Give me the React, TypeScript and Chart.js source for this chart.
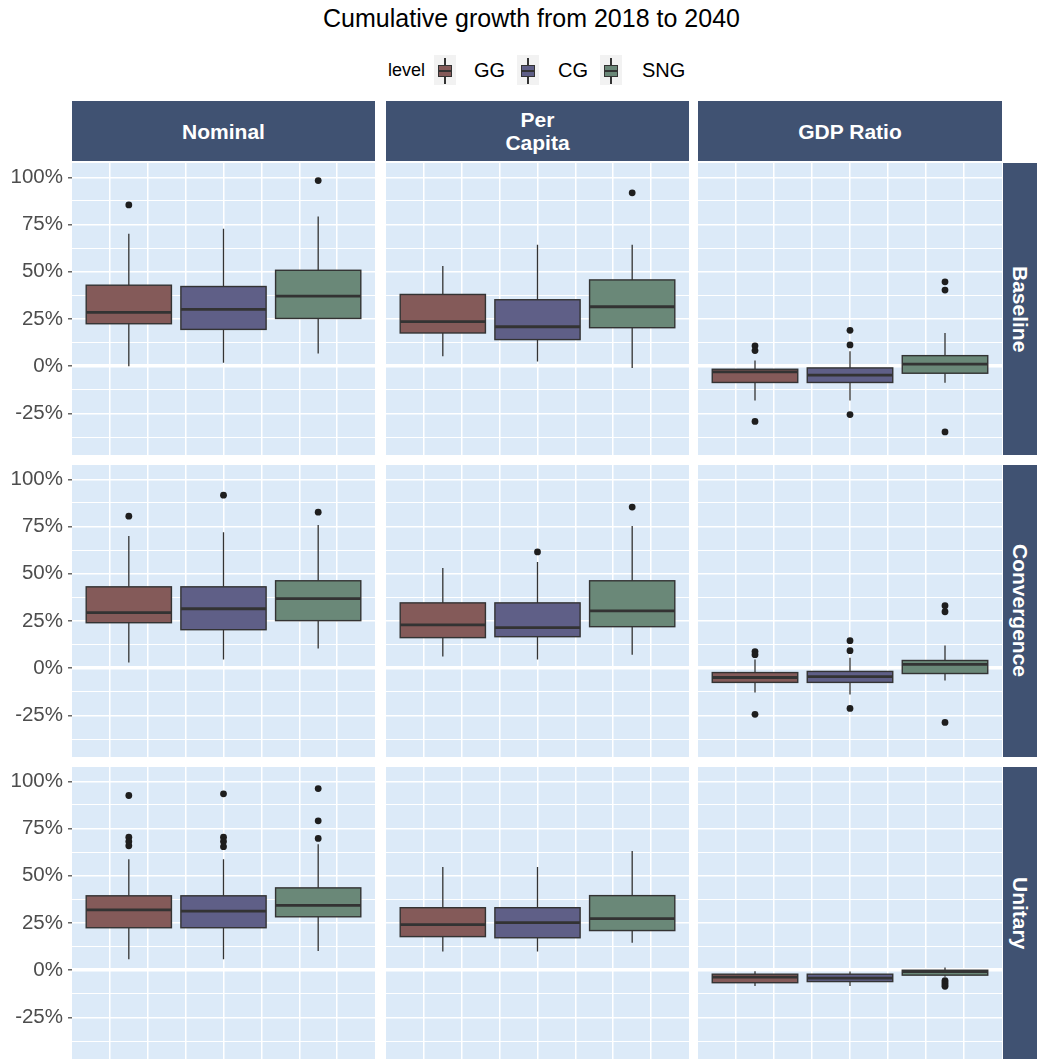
import React, { useEffect, useRef } from "react";
import { Chart, registerables } from "chart.js";

Chart.register(...registerables);

// ---------- data ----------
const title = "Cumulative growth from 2018 to 2040";
const legendTitle = "level";
const levels = ["GG", "CG", "SNG"];
const measures = ["Nominal", "Per\nCapita", "GDP Ratio"];
const scenarios = ["Baseline", "Convergence", "Unitary"];
const levelColors = ["#845A59", "#5F5F87", "#6A8878"];

// values indexed [scenario][measure][level], in percent
const whiskerLow = [
  [[0, 1.8, 6.7], [5.3, 2.5, -1.0], [-18.1, -18.1, -8.8]],
  [[3.0, 4.6, 10.4], [6.2, 4.6, 7.2], [-12.8, -13.9, -6.5]],
  [[5.8, 5.8, 10.2], [9.9, 9.9, 14.6], [-8.4, -8.4, -3.5]],
];
const q1 = [
  [[22.5, 19.5, 25.3], [17.6, 14.1, 20.4], [-8.6, -8.6, -3.7]],
  [[24.1, 20.4, 25.2], [16.2, 16.7, 22.0], [-7.5, -7.5, -2.8]],
  [[22.5, 22.5, 28.3], [17.8, 17.2, 21.0], [-6.6, -6.0, -2.6]],
];
const median = [
  [[28.5, 30.1, 37.1], [23.6, 20.9, 31.5], [-3.0, -4.7, 1.1]],
  [[29.4, 31.5, 36.8], [23.0, 21.5, 30.4], [-4.9, -4.4, 2.0]],
  [[32.0, 31.3, 34.3], [24.1, 25.2, 27.3], [-3.7, -4.2, -0.7]],
];
const q3 = [
  [[42.9, 42.2, 50.8], [38.0, 35.2, 45.7], [-1.6, -0.9, 5.6]],
  [[43.1, 43.1, 46.3], [34.6, 34.6, 46.3], [-2.3, -1.7, 4.1]],
  [[39.4, 39.4, 43.6], [33.1, 33.1, 39.5], [-2.1, -2.1, 0.0]],
];
const whiskerHigh = [
  [[70.1, 72.8, 79.3], [53.1, 64.3, 64.3], [3.0, 7.9, 17.6]],
  [[70.0, 72.0, 75.8], [53.1, 56.3, 75.3], [4.6, 5.6, 12.0]],
  [[58.8, 58.8, 66.7], [54.7, 54.7, 63.1], [-0.5, -0.7, 1.4]],
];
const outliers = [
  [[[85.4], [], [98.3]], [[], [], [91.8]], [[10.8, 8.3, -29.2], [19.0, 11.3, -25.6], [44.7, 40.3, -34.8]]],
  [[[80.5], [91.6], [82.6]], [[], [61.6], [85.3]], [[8.8, 7.2, -24.4], [14.6, 9.3, -21.3], [33.1, 29.9, -28.7]]],
  [[[92.5, 70.4, 68.2, 65.9], [93.4, 70.4, 68.2, 65.4], [96.2, 79.1, 69.8]], [[], [], []], [[], [], [-5.5, -6.5, -7.5, -8.5]]],
];
const yMin = -47.0;
const yMax = 107.6;
const yGridValues = [-37.5, -25, -12.5, 0, 12.5, 25, 37.5, 50, 62.5, 75, 87.5, 100];
const yLabelValues = [-25, 0, 25, 50, 75, 100];
const xMin = 0.4;
const xMax = 3.6;
const xGridValues = [0.8, 1.2, 1.6, 2.0, 2.4, 2.8, 3.2];

// ---------- layout ----------
const FONT = "'Liberation Sans', Arial, Helvetica, sans-serif";
const STRIP = "#405272";
const PANEL_BG = "#DCEAF8";
const cols = [
  { left: 72, width: 303 },
  { left: 386, width: 303 },
  { left: 698, width: 304 },
];
const rows = [{ top: 163 }, { top: 465 }, { top: 767 }];
const PANEL_H = 292;
const AXIS_W = 72;

function Panel({ r, c }: { r: number; c: number }) {
  const ref = useRef<HTMLCanvasElement>(null);
  const showY = c === 0;
  const axisW = showY ? AXIS_W : 0;
  const col = cols[c];
  const row = rows[r];
  const cw = col.width + axisW;

  useEffect(() => {
    const pts: { x: number; y: number }[] = [];
    levels.forEach((_, i) => {
      outliers[r][c][i].forEach((v) => pts.push({ x: i + 1, y: v }));
    });

    const bgPlugin = {
      id: "panelBg",
      beforeDraw(chart: any) {
        const { ctx, chartArea } = chart;
        ctx.save();
        ctx.fillStyle = PANEL_BG;
        ctx.fillRect(chartArea.left, chartArea.top, chartArea.right - chartArea.left, chartArea.bottom - chartArea.top);
        ctx.restore();
      },
    };

    const boxPlugin = {
      id: "boxplots",
      beforeDatasetsDraw(chart: any) {
        const { ctx } = chart;
        const xs = chart.scales.x;
        const ys = chart.scales.y;
        levels.forEach((_, i) => {
          const cx = xs.getPixelForValue(i + 1);
          const hw = xs.getPixelForValue(i + 1 + 0.45) - cx;
          const yLo = ys.getPixelForValue(whiskerLow[r][c][i]);
          const yQ1 = ys.getPixelForValue(q1[r][c][i]);
          const yMed = ys.getPixelForValue(median[r][c][i]);
          const yQ3 = ys.getPixelForValue(q3[r][c][i]);
          const yHi = ys.getPixelForValue(whiskerHigh[r][c][i]);
          ctx.save();
          ctx.strokeStyle = "#333333";
          ctx.lineWidth = 1.3;
          ctx.beginPath();
          ctx.moveTo(cx, yHi);
          ctx.lineTo(cx, yQ3);
          ctx.moveTo(cx, yQ1);
          ctx.lineTo(cx, yLo);
          ctx.stroke();
          ctx.fillStyle = levelColors[i];
          ctx.fillRect(cx - hw, yQ3, 2 * hw, yQ1 - yQ3);
          ctx.lineWidth = 1.4;
          ctx.strokeRect(cx - hw, yQ3, 2 * hw, yQ1 - yQ3);
          ctx.lineWidth = 2.8;
          ctx.beginPath();
          ctx.moveTo(cx - hw, yMed);
          ctx.lineTo(cx + hw, yMed);
          ctx.stroke();
          ctx.restore();
        });
      },
    };

    const chart = new Chart(ref.current as HTMLCanvasElement, {
      type: "scatter",
      data: {
        datasets: [
          {
            data: pts,
            pointRadius: 3.4,
            pointHoverRadius: 3.4,
            pointBackgroundColor: "#1E1E1E",
            pointBorderWidth: 0,
            showLine: false,
          } as any,
        ],
      },
      options: {
        animation: false,
        responsive: false,
        maintainAspectRatio: false,
        devicePixelRatio: 1,
        layout: { padding: 0, autoPadding: false },
        events: [],
        plugins: { legend: { display: false }, tooltip: { enabled: false } },
        scales: {
          x: {
            type: "linear",
            min: xMin,
            max: xMax,
            afterBuildTicks: (s: any) => {
              s.ticks = xGridValues.map((v) => ({ value: v }));
            },
            ticks: { display: false },
            grid: { color: "#FFFFFF", lineWidth: 1.5, drawTicks: false },
            border: { display: false },
            afterFit: (s: any) => {
              s.height = 0;
              s.paddingLeft = 0;
              s.paddingRight = 0;
            },
          },
          y: {
            type: "linear",
            min: yMin,
            max: yMax,
            afterBuildTicks: (s: any) => {
              s.ticks = yGridValues.map((v) => ({ value: v }));
            },
            ticks: {
              display: showY,
              autoSkip: false,
              padding: 5,
              color: "#4D4D4D",
              font: { family: FONT, size: 20.5 },
              callback: (v: any) => (yLabelValues.includes(Number(v)) ? `${v}%` : ""),
            },
            grid: {
              color: "#FFFFFF",
              drawTicks: showY,
              tickLength: 4,
              tickWidth: 1.3,
              tickColor: (ctx: any) =>
                ctx.tick && yLabelValues.includes(ctx.tick.value) ? "#4D4D4D" : "rgba(0,0,0,0)",
              lineWidth: (ctx: any) => {
                const v = ctx.tick ? ctx.tick.value : 1;
                if (v === 0) return 3.6;
                return yLabelValues.includes(v) ? 1.6 : 1.1;
              },
            },
            border: { display: false },
            afterFit: (s: any) => {
              s.width = axisW;
              s.paddingTop = 0;
              s.paddingBottom = 0;
            },
          },
        },
      } as any,
      plugins: [bgPlugin, boxPlugin],
    });
    return () => chart.destroy();
  }, [r, c]);

  return (
    <canvas
      ref={ref}
      width={cw}
      height={PANEL_H}
      style={{ position: "absolute", left: col.left - axisW, top: row.top, width: cw, height: PANEL_H }}
    />
  );
}

function LegendKey({ left, color }: { left: number; color: string }) {
  return (
    <div style={{ position: "absolute", left, top: 55, width: 22, height: 30, background: "#F2F2F2" }}>
      <div style={{ position: "absolute", left: 10.4, top: 3, width: 1.3, height: 26, background: "#333" }} />
      <div
        style={{
          position: "absolute",
          left: 4,
          top: 9.5,
          width: 14,
          height: 12.5,
          background: color,
          border: "1.3px solid #333",
          boxSizing: "border-box",
        }}
      />
      <div style={{ position: "absolute", left: 4, top: 15, width: 14, height: 1.7, background: "#333" }} />
    </div>
  );
}

const legendKeyLefts = [434, 517, 600];
const legendLabelLefts = [474, 558, 642];

export default function App() {
  return (
    <div
      style={{
        position: "absolute",
        left: 0,
        top: 0,
        width: 1037,
        height: 1059,
        overflow: "hidden",
        background: "#FFFFFF",
        fontFamily: FONT,
      }}
    >
      <div
        style={{
          position: "absolute",
          left: 231.5,
          width: 600,
          top: 3,
          lineHeight: "30px",
          fontSize: 25,
          textAlign: "center",
          color: "#000",
        }}
      >
        {title}
      </div>

      <div style={{ position: "absolute", left: 388, top: 58, lineHeight: "24px", fontSize: 18, color: "#000" }}>
        {legendTitle}
      </div>
      {levels.map((lv, i) => (
        <React.Fragment key={lv}>
          <LegendKey left={legendKeyLefts[i]} color={levelColors[i]} />
          <div
            style={{
              position: "absolute",
              left: legendLabelLefts[i],
              top: 58,
              lineHeight: "24px",
              fontSize: 20,
              color: "#000",
            }}
          >
            {lv}
          </div>
        </React.Fragment>
      ))}

      {measures.map((m, c) => (
        <div
          key={m}
          style={{
            position: "absolute",
            left: cols[c].left,
            top: 101,
            width: cols[c].width,
            height: 60,
            background: STRIP,
            color: "#FFFFFF",
            fontWeight: "bold",
            fontSize: 21,
            lineHeight: "23px",
            whiteSpace: "pre-line",
            textAlign: "center",
            display: "flex",
            alignItems: "center",
            justifyContent: "center",
          }}
        >
          {m}
        </div>
      ))}

      {scenarios.map((s, r) => (
        <div
          key={s}
          style={{
            position: "absolute",
            left: 1003,
            top: rows[r].top,
            width: 34,
            height: PANEL_H,
            background: STRIP,
            color: "#FFFFFF",
            fontWeight: "bold",
            fontSize: 21,
            display: "flex",
            alignItems: "center",
            justifyContent: "center",
          }}
        >
          <span style={{ writingMode: "vertical-rl", lineHeight: "34px" }}>{s}</span>
        </div>
      ))}

      {rows.map((_, r) => cols.map((__, c) => <Panel key={`${r}-${c}`} r={r} c={c} />))}
    </div>
  );
}
